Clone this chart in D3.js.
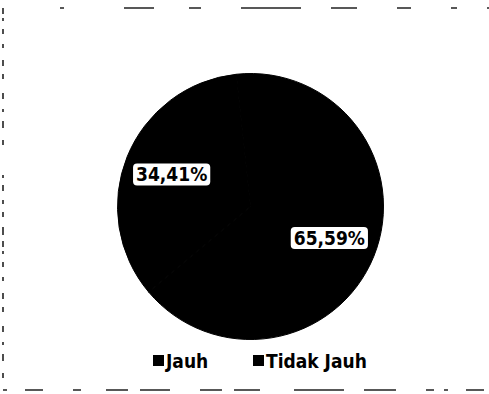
<!DOCTYPE html>
<html>
<head>
<meta charset="utf-8">
<script src="https://cdn.jsdelivr.net/npm/d3@7"></script>
<style>
  body { margin: 0; background: #fff; }
  svg { display: block; }
</style>
</head>
<body>
<script>
// data
const categories = ['Jauh', 'Tidak Jauh'];
const values = [34.41, 65.59];
const labels = ['34,41%', '65,59%'];
const colors = ['#000', '#000'];

const width = 489, height = 394;
const font = '"DejaVu Sans Condensed", "Open Sans", sans-serif';

const svg = d3.select('body').append('svg')
  .attr('width', width)
  .attr('height', height);

/* scanned frame: broken lines on top, left, bottom */
const frame = svg.append('g')
  .attr('fill', 'none')
  .attr('stroke', '#222')
  .attr('stroke-width', 1.6);

frame.append('line')
  .attr('x1', 60).attr('y1', 8).attr('x2', 489).attr('y2', 8)
  .attr('stroke-dasharray', '4 60 30 35 12 40 60 30 26 40 14 40 6 30');
frame.append('line')
  .attr('x1', 3).attr('y1', 8).attr('x2', 3).attr('y2', 390)
  .attr('stroke-dasharray', '6 4 3 8 5 10 4 12 6 8 5 14 6 10 3 9 7 12 5 30 3 7 6 9 4 8 5 10 8 6');
frame.append('line')
  .attr('x1', 3).attr('y1', 390).attr('x2', 489).attr('y2', 390)
  .attr('stroke-dasharray', '4 18 18 30 8 25 22 12 30 30 22 12 26 34 50 20 32 30 8 10');

/* pie */
const cx = 250.5, cy = 206.5, radius = 133;
const g = svg.append('g').attr('transform', `translate(${cx},${cy})`);

const pie = d3.pie()
  .sort(null)
  .startAngle(230 * Math.PI / 180)
  .endAngle(590 * Math.PI / 180)
  .value(d => d);

const arcs = pie(values);
const arc = d3.arc().innerRadius(0).outerRadius(radius);
const labelArc = d3.arc().innerRadius(85).outerRadius(85);

g.selectAll('path.slice')
  .data(arcs)
  .enter().append('path')
  .attr('class', 'slice')
  .attr('d', arc)
  .attr('fill', (d, i) => colors[i])
  .attr('stroke', (d, i) => colors[i])
  .attr('stroke-width', 1);

const lbl = g.selectAll('g.lbl')
  .data(arcs)
  .enter().append('g')
  .attr('class', 'lbl')
  .attr('transform', d => `translate(${labelArc.centroid(d)})`);

lbl.append('text')
  .attr('text-anchor', 'middle')
  .attr('dy', '0.35em')
  .attr('font-family', font)
  .attr('font-weight', 'bold')
  .attr('font-size', 19)
  .attr('fill', '#000')
  .text((d, i) => labels[i]);

// white box behind each label
lbl.each(function () {
  const t = d3.select(this).select('text');
  const b = t.node().getBBox();
  d3.select(this).insert('rect', 'text')
    .attr('x', b.x - 3).attr('y', b.y)
    .attr('width', b.width + 6).attr('height', b.height)
    .attr('rx', 4)
    .attr('fill', '#fff');
});

/* legend */
const legendX = d3.scalePoint()
  .domain(categories)
  .range([153, 253]);

const legend = svg.append('g').attr('class', 'legend');
const item = legend.selectAll('g')
  .data(categories)
  .enter().append('g')
  .attr('transform', d => `translate(${legendX(d)},355)`);

item.append('rect')
  .attr('width', 11).attr('height', 11)
  .attr('fill', (d, i) => colors[i]);

item.append('text')
  .attr('x', 13)
  .attr('y', 13)
  .attr('font-family', font)
  .attr('font-weight', 'bold')
  .attr('font-size', 19)
  .attr('fill', '#000')
  .text(d => d);
</script>
</body>
</html>
